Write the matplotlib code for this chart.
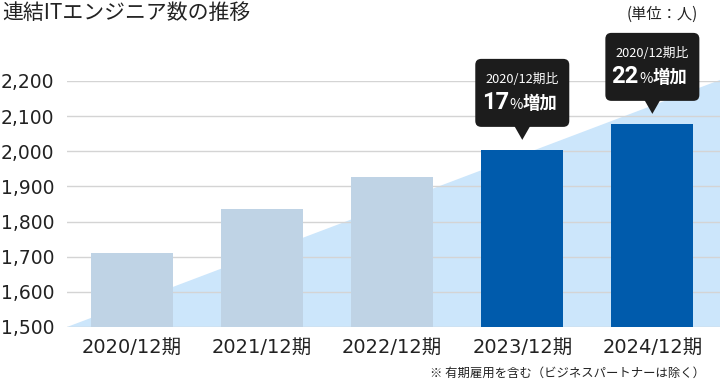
import matplotlib.pyplot as plt
import matplotlib.transforms as mtransforms
from matplotlib.patches import FancyBboxPatch, Polygon
from matplotlib.ticker import FuncFormatter

plt.rcParams['font.family'] = ['DejaVu Sans', 'Noto Sans CJK JP']
JP = ['Noto Sans CJK JP', 'DejaVu Sans']

# data
periods = ['2020/12期', '2021/12期', '2022/12期', '2023/12期', '2024/12期']
engineers = [1711, 1836, 1927, 2004, 2078]
highlight = [False, False, False, True, True]
callouts = {3: '17', 4: '22'}  # bar index -> % increase vs 2020/12
yticks = [1500, 1600, 1700, 1800, 1900, 2000, 2100, 2200]

light = '#bfd3e5'
dark = '#005bac'
tri = '#cce6fb'

fig = plt.figure(figsize=(7.2, 3.83), dpi=100)
ax = fig.add_axes([67 / 720, 1 - 327 / 383, 1 - 67 / 720, (327 - 81) / 383])
ax.set_xlim(-0.5, 4.52)
ax.set_ylim(1500, 2200)

# background wedge
x0, x1 = ax.get_xlim()
ax.add_patch(Polygon([(x0, 1500), (x1, 2203), (x1, 1500)], closed=True,
                     fc=tri, ec='none', zorder=0.5, clip_on=False))

for y in yticks:
    ax.axhline(y, color='#d4d4d4', lw=1, zorder=1)

xs = range(len(periods))
ax.bar(xs, engineers, width=0.63,
       color=[dark if h else light for h in highlight], zorder=2)

ax.set_xticks(list(xs))
ax.set_xticklabels(periods, fontsize=14, color='#222222')
ax.set_yticks(yticks)
ax.yaxis.set_major_formatter(FuncFormatter(lambda v, p: f'{int(v):,}'))
ax.tick_params(axis='y', labelsize=13.5, colors='#222222', length=0, pad=9)
ax.tick_params(axis='x', length=0, pad=8)
for s in ax.spines.values():
    s.set_visible(False)

# callouts, drawn in pixel units above each bar
for i, pct in callouts.items():
    tr = mtransforms.Affine2D().scale(fig.dpi / 100) + \
        mtransforms.ScaledTranslation(i, engineers[i], ax.transData)
    box = FancyBboxPatch((-47, 23), 94, 68,
                         boxstyle='round,pad=0,rounding_size=6',
                         fc='#1c1c1c', ec='none', transform=tr, clip_on=False, zorder=5)
    ax.add_patch(box)
    ax.add_patch(Polygon([(-8, 24), (8, 24), (0, 10)], closed=True, fc='#1c1c1c',
                         ec='none', transform=tr, clip_on=False, zorder=5))
    ax.text(0, 70, '2020/12期比', transform=tr, ha='center', va='center',
            color='white', fontsize=9.2, family=JP, zorder=6)
    ax.text(-13.5, 47, pct, transform=tr, ha='right', va='center', color='white',
            fontsize=17, fontweight='bold', family=['Roboto', 'DejaVu Sans'], zorder=6)
    ax.text(-13, 45, '%', transform=tr, ha='left', va='center', color='white',
            fontsize=10.5, family=JP, zorder=6)
    ax.text(0, 46, '増加', transform=tr, ha='left', va='center', color='white',
            fontsize=12.5, fontweight='bold', family=JP, zorder=6)

fig.text(2 / 720, 1 - 13 / 383, '連結ITエンジニア数の推移', fontsize=15,
         family=JP, va='center', ha='left', color='#222222')
fig.text(698 / 720, 1 - 14 / 383, '(単位：人)', fontsize=11, family=JP,
         va='center', ha='right', color='#222222')
fig.text(705 / 720, 1 - 373 / 383, '※ 有期雇用を含む（ビジネスパートナーは除く）',
         fontsize=8.9, family=JP, va='center', ha='right', color='#222222')

fig.savefig('out.png', dpi=100)
